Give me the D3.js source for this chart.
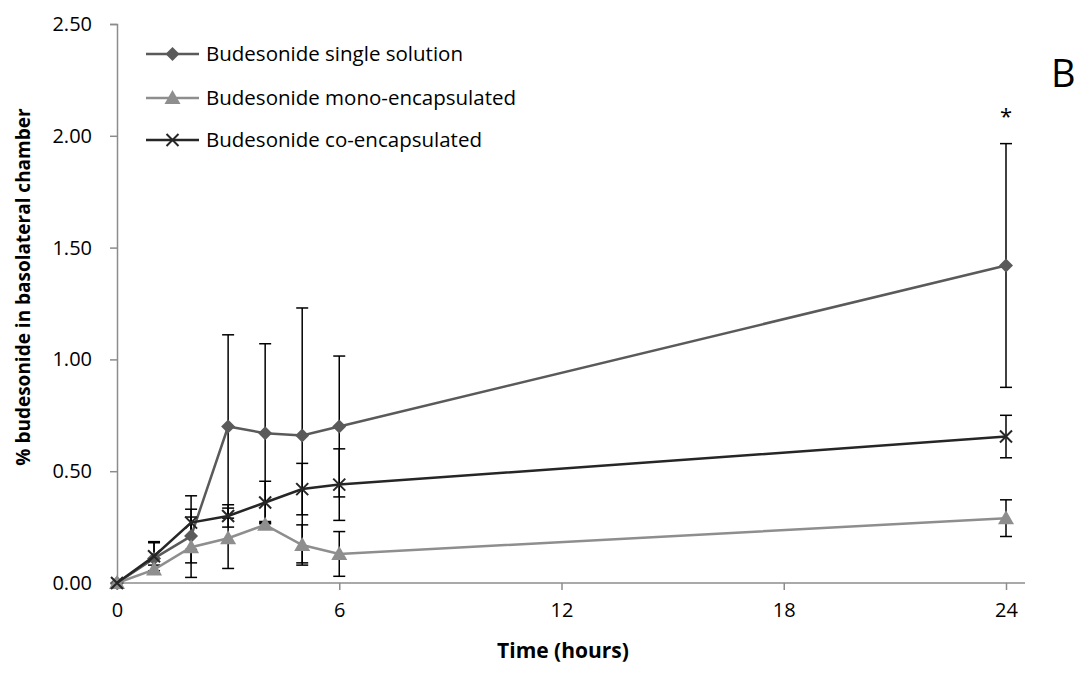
<!DOCTYPE html>
<html>
<head>
<meta charset="utf-8">
<script src="https://cdn.jsdelivr.net/npm/d3@7"></script>
<style>
  body { margin: 0; background: #fff; }
  svg { font-family: "Open Sans", "Liberation Sans", sans-serif; }
</style>
</head>
<body>
<div id="vis"></div>
<script>
const times = [0, 1, 2, 3, 4, 5, 6, 24];
const xTicks = [0, 6, 12, 18, 24];
const yTicks = [0, 0.5, 1.0, 1.5, 2.0, 2.5];

const singleVals = [0, 0.11, 0.21, 0.70, 0.67, 0.66, 0.70, 1.42];
const singleErr  = [0, 0.07, 0.12, 0.41, 0.40, 0.57, 0.315, 0.545];
const monoVals   = [0, 0.06, 0.16, 0.20, 0.26, 0.17, 0.13, 0.29];
const monoErr    = [0, 0.02, 0.135, 0.135, 0.015, 0.09, 0.10, 0.082];
const coVals     = [0, 0.12, 0.27, 0.30, 0.36, 0.42, 0.44, 0.655];
const coErr      = [0, 0.065, 0.12, 0.05, 0.095, 0.115, 0.16, 0.095];

const seriesNames = ['Budesonide single solution', 'Budesonide mono-encapsulated', 'Budesonide co-encapsulated'];

const width = 1090;
const height = 673;

const series = [
  { name: seriesNames[0], vals: singleVals, err: singleErr, color: '#5a5a5a', marker: 'diamond' },
  { name: seriesNames[1], vals: monoVals, err: monoErr, color: '#8e8e8e', marker: 'triangle' },
  { name: seriesNames[2], vals: coVals, err: coErr, color: '#262626', marker: 'cross' }
];

const x = d3.scaleLinear().domain([0, 24]).range([117, 1006]);
const y = d3.scaleLinear().domain([0, 2.5]).range([583, 24]);

const svg = d3.select('#vis').append('svg')
  .attr('width', width)
  .attr('height', height);

// axes
const yAxis = svg.append('g')
  .attr('transform', `translate(${x(0)},0)`)
  .call(d3.axisLeft(y).tickValues(yTicks).tickSize(7).tickPadding(18).tickFormat(d3.format('.2f')));
yAxis.select('.domain').attr('stroke', '#8c8c8c').attr('stroke-width', 1.5);
yAxis.selectAll('.tick line').attr('stroke', '#8c8c8c').attr('stroke-width', 1.5);
yAxis.selectAll('.tick text').attr('font-size', 20).attr('fill', '#000')
  .attr('font-family', '"Open Sans", sans-serif');

const xAxis = svg.append('g')
  .attr('transform', `translate(0,${y(0)})`)
  .call(d3.axisBottom(x).tickValues(xTicks).tickSize(7).tickSizeOuter(0).tickPadding(13));
xAxis.select('.domain').attr('stroke', '#8c8c8c').attr('stroke-width', 1.5)
  .attr('d', `M${x(0)},0H1025`);
xAxis.selectAll('.tick line').attr('stroke', '#8c8c8c').attr('stroke-width', 1.5);
xAxis.selectAll('.tick text').attr('font-size', 20).attr('fill', '#000')
  .attr('font-family', '"Open Sans", sans-serif');

// axis titles
svg.append('text')
  .attr('x', 563).attr('y', 658)
  .attr('text-anchor', 'middle')
  .attr('font-size', 21).attr('font-weight', 'bold')
  .text('Time (hours)');

svg.append('text')
  .attr('transform', 'translate(30,287) rotate(-90)')
  .attr('text-anchor', 'middle')
  .attr('font-size', 19).attr('font-weight', 'bold')
  .text('% budesonide in basolateral chamber');

// error bars
const capW = 6;
series.forEach(s => {
  const g = svg.append('g');
  times.forEach((t, i) => {
    if (!s.err[i]) return;
    const cx = x(t);
    const hi = y(s.vals[i] + s.err[i]);
    const lo = y(Math.max(0, s.vals[i] - s.err[i]));
    g.append('line').attr('x1', cx).attr('x2', cx).attr('y1', hi).attr('y2', lo)
      .attr('stroke', '#000').attr('stroke-width', 1.5);
    [hi, lo].forEach(yy => {
      g.append('line').attr('x1', cx - capW).attr('x2', cx + capW).attr('y1', yy).attr('y2', yy)
        .attr('stroke', '#000').attr('stroke-width', 1.5);
    });
  });
});

const line = d3.line()
  .x((d, i) => x(times[i]))
  .y(d => y(d));

function drawMarker(g, type, cx, cy, color) {
  if (type === 'diamond') {
    g.append('path')
      .attr('d', `M${cx},${cy - 7}L${cx + 7},${cy}L${cx},${cy + 7}L${cx - 7},${cy}Z`)
      .attr('fill', color);
  } else if (type === 'triangle') {
    g.append('path')
      .attr('d', `M${cx},${cy - 8}L${cx + 8},${cy + 6}L${cx - 8},${cy + 6}Z`)
      .attr('fill', color);
  } else {
    g.append('path')
      .attr('d', `M${cx - 6},${cy - 6}L${cx + 6},${cy + 6}M${cx - 6},${cy + 6}L${cx + 6},${cy - 6}`)
      .attr('stroke', color).attr('stroke-width', 2);
  }
}

series.forEach(s => {
  svg.append('path')
    .datum(s.vals)
    .attr('d', line)
    .attr('fill', 'none')
    .attr('stroke', s.color)
    .attr('stroke-width', 2.5);
  const g = svg.append('g');
  s.vals.forEach((v, i) => drawMarker(g, s.marker, x(times[i]), y(v), s.color));
});

// legend
const legendRows = [54, 98, 140];
series.forEach((s, i) => {
  const ly = legendRows[i];
  const g = svg.append('g');
  g.append('line').attr('x1', 146).attr('x2', 199).attr('y1', ly).attr('y2', ly)
    .attr('stroke', s.color).attr('stroke-width', 2.5);
  drawMarker(g, s.marker, 172.5, ly, s.color);
  g.append('text').attr('x', 206).attr('y', ly + 7)
    .attr('font-size', 20.5).attr('fill', '#000')
    .text(s.name);
});

// significance star and panel label
svg.append('text')
  .attr('x', x(24)).attr('y', 124)
  .attr('text-anchor', 'middle')
  .attr('font-size', 22)
  .text('*');

svg.append('text')
  .attr('x', 1051).attr('y', 87)
  .attr('font-size', 38)
  .text('B');
</script>
</body>
</html>
